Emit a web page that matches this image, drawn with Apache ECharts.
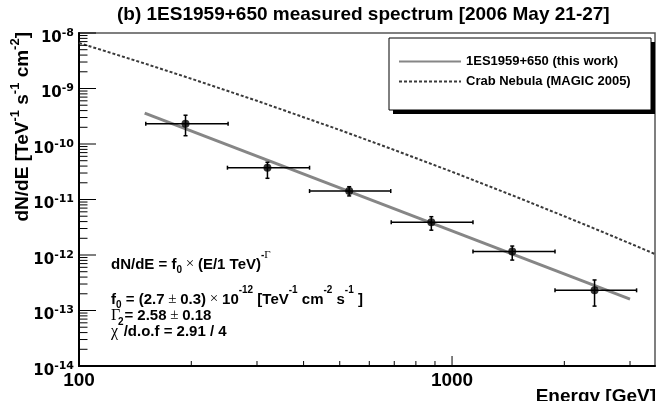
<!DOCTYPE html>
<html>
<head>
<meta charset="utf-8">
<script src="https://cdn.jsdelivr.net/npm/echarts@6/dist/echarts.min.js"></script>
<style>
html, body { margin: 0; padding: 0; background: #fff; }
#chart { width: 658px; height: 401px; }
</style>
</head>
<body>
<div id="chart"></div>
<script>
// measured points
var energy = [193, 320, 530, 880, 1450, 2410];
var flux = [2.32e-10, 3.74e-11, 1.42e-11, 3.88e-12, 1.16e-12, 2.31e-13];
var eLow = [151, 250, 415, 687, 1138, 1888];
var eHigh = [251, 415, 685, 1138, 1888, 3124];
var fLow = [1.41e-10, 2.41e-11, 1.16e-11, 2.8e-12, 8.1e-13, 1.2e-13];
var fHigh = [3.3e-10, 4.68e-11, 1.7e-11, 4.9e-12, 1.45e-12, 3.55e-13];

// fitted power law (end points)
var fitE = [150, 3000];
var fitF = [3.6e-10, 1.6e-13];

// Crab reference curve
var crabE = [100, 150, 200, 300, 500, 700, 1000, 1500, 2000, 2500, 3000, 3500];
var crabF = [6.62e-9, 2.82e-9, 1.50e-9, 6.0e-10, 1.79e-10, 7.81e-11, 3.16e-11, 1.088e-11, 4.99e-12, 2.70e-12, 1.615e-12, 1.041e-12];

// axis ticks
var xMajor = [100, 1000];
var xMinor = [200, 300, 400, 500, 600, 700, 800, 900, 2000, 3000];
var yDecades = [-14, -13, -12, -11, -10, -9, -8];
var mantissas = [2, 3, 4, 5, 6, 7, 8, 9];

var X_MIN = 100, X_MAX = 3500, Y_MIN = 1e-14, Y_MAX = 1e-8;
var FONT = 'Liberation Sans, Arial, Helvetica, sans-serif';
var WIDE = 'DejaVu Sans, sans-serif';
var SERIF = 'Liberation Serif, DejaVu Serif, serif';

var yMajor = yDecades.map(function(k) { return Math.pow(10, k); });
var yMinor = [];
for (var i = 0; i < yDecades.length - 1; i++) {
	for (var j = 0; j < mantissas.length; j++) {
		yMinor.push(mantissas[j] * Math.pow(10, yDecades[i]));
	}
}

var tickData = [];
xMajor.forEach(function(v) { tickData.push([v, Y_MIN, 0, 10]); });
xMinor.forEach(function(v) { tickData.push([v, Y_MIN, 0, 5]); });
yMajor.forEach(function(v) { tickData.push([X_MIN, v, 1, 17]); });
yMinor.forEach(function(v) { tickData.push([X_MIN, v, 1, 8.5]); });

var pointData = energy.map(function(e, i) {
	return [e, flux[i], eLow[i], eHigh[i], fLow[i], fHigh[i]];
});

function isPow10(v) {
	var l = Math.log10(v);
	return Math.abs(l - Math.round(l)) < 1e-6;
}

// rich text styles for the formula block (line box 22px, sup raised, sub lowered)
var LH = 22;
var richFormula = {
	n: { fontSize: 15, fontWeight: 'bold', fontFamily: FONT, fill: '#000', lineHeight: LH, verticalAlign: 'middle' },
	m: { fontSize: 15, fontFamily: SERIF, fill: '#000', lineHeight: LH, verticalAlign: 'middle' },
	g: { fontSize: 16, fontFamily: SERIF, fill: '#000', lineHeight: LH, verticalAlign: 'middle' },
	s: { fontSize: 10, fontWeight: 'bold', fontFamily: FONT, fill: '#000', height: 4, lineHeight: 4, verticalAlign: 'top' },
	sg: { fontSize: 11, fontFamily: SERIF, fill: '#000', height: 4, lineHeight: 4, verticalAlign: 'top' },
	d: { fontSize: 10, fontWeight: 'bold', fontFamily: FONT, fill: '#000', height: 11, lineHeight: 11, verticalAlign: 'bottom' }
};

var lineStyleBar = { stroke: '#000', lineWidth: 1.5 };

var chart = echarts.init(document.getElementById('chart'));
chart.setOption({
	animation: false,
	backgroundColor: '#fff',
	title: {
		text: '(b) 1ES1959+650 measured spectrum [2006 May 21-27]',
		left: 117,
		top: 5,
		padding: 0,
		textStyle: { fontSize: 19, fontWeight: 'bold', color: '#000', fontFamily: FONT }
	},
	legend: {
		data: ['1ES1959+650 (this work)', 'Crab Nebula (MAGIC 2005)'],
		orient: 'vertical',
		left: 398,
		top: 55,
		padding: 0,
		itemWidth: 62,
		itemHeight: 14,
		itemGap: 7,
		selectedMode: false,
		itemStyle: { opacity: 0 },
		textStyle: { fontSize: 13, fontWeight: 'bold', color: '#000', fontFamily: FONT }
	},
	grid: {
		left: 79, top: 33, right: 2, bottom: 35,
		show: true, borderColor: '#555', borderWidth: 1.5, backgroundColor: 'transparent'
	},
	xAxis: {
		type: 'log',
		logBase: 10,
		min: X_MIN,
		max: X_MAX,
		axisLine: { lineStyle: { color: '#000', width: 2 } },
		axisTick: { show: false },
		splitLine: { show: false },
		axisLabel: {
			margin: 5,
			color: '#000',
			fontSize: 19,
			fontWeight: 'bold',
			fontFamily: FONT,
			formatter: function(v) { return isPow10(v) ? String(Math.round(v)) : ''; }
		}
	},
	yAxis: {
		type: 'log',
		logBase: 10,
		min: Y_MIN,
		max: Y_MAX,
		axisLine: { lineStyle: { color: '#000', width: 2 } },
		axisTick: { show: false },
		splitLine: { show: false },
		axisLabel: {
			margin: 5,
			color: '#000',
			formatter: function(v) {
				return '{b|10}{s|-' + Math.abs(Math.round(Math.log10(v))) + '}';
			},
			rich: {
				b: { fontSize: 15, fontWeight: 'bold', fontFamily: WIDE, color: '#000', height: 10, lineHeight: 20, verticalAlign: 'bottom' },
				s: { fontSize: 11, fontWeight: 'bold', fontFamily: WIDE, color: '#000', lineHeight: 20, verticalAlign: 'middle' }
			}
		}
	},
	graphic: [
		// legend frame with hard shadow
		{ type: 'rect', shape: { x: 393, y: 42, width: 262, height: 72 }, style: { fill: '#000' }, z: 1 },
		{ type: 'rect', shape: { x: 389, y: 38, width: 262, height: 72 }, style: { fill: '#fff', stroke: '#000', lineWidth: 1 }, z: 2 },
		{
			type: 'text',
			x: 23,
			y: 32,
			rotation: Math.PI / 2,
			style: {
				text: '{n|dN/dE [TeV}{s|-1}{n| s}{s|-1}{n| cm}{s|-2}{n|]}',
				align: 'right',
				verticalAlign: 'middle',
				rich: {
					n: { fontSize: 19, fontWeight: 'bold', fontFamily: FONT, fill: '#000', lineHeight: 28, verticalAlign: 'middle' },
					s: { fontSize: 13, fontWeight: 'bold', fontFamily: FONT, fill: '#000', lineHeight: 14, verticalAlign: 'top' }
				}
			}
		},
		{
			type: 'text',
			x: 656,
			y: 397,
			style: {
				text: 'Energy [GeV]',
				align: 'right',
				verticalAlign: 'middle',
				font: 'bold 19px ' + FONT,
				fill: '#000'
			}
		},
		{
			type: 'group',
			left: 111,
			top: 250,
			children: [
				{
					type: 'text', x: 0, y: 0,
					style: { text: '{n|dN/dE = f}{d|0}{m| × }{n|(E/1 TeV)}{s|-}{sg|Γ}', rich: richFormula }
				},
				{
					type: 'text', x: 0, y: 35,
					style: {
						text: '{n|f}{d|0}{n| = (2.7}{m| ± }{n|0.3)}{m| × }{n|10}{s|-12}{n| [TeV}{s|-1}{n| cm}{s|-2}{n| s}{s|-1}{n| ]}',
						rich: richFormula
					}
				},
				{
					type: 'text', x: 0, y: 51,
					style: { text: '{g|Γ}{n| = 2.58}{m| ± }{n|0.18}', rich: richFormula }
				},
				{
					type: 'text', x: 0, y: 67,
					style: { text: '{g|χ}{s|2}{n|/d.o.f = 2.91 / 4}', rich: richFormula }
				}
			]
		}
	],
	series: [
		{
			name: 'Crab Nebula (MAGIC 2005)',
			type: 'line',
			symbol: 'none',
			data: crabE.map(function(e, i) { return [e, crabF[i]]; }),
			lineStyle: { color: '#3a3a3a', width: 2, type: [3, 2] },
			itemStyle: { color: '#3a3a3a' },
			z: 3
		},
		{
			name: '1ES1959+650 (this work)',
			type: 'line',
			symbol: 'none',
			data: fitE.map(function(e, i) { return [e, fitF[i]]; }),
			lineStyle: { color: '#868686', width: 3 },
			itemStyle: { color: '#868686' },
			z: 4
		},
		{
			name: 'errors',
			type: 'custom',
			data: pointData,
			encode: { x: [0, 2, 3], y: [1, 4, 5] },
			z: 5,
			renderItem: function(params, api) {
				var e = api.value(0), f = api.value(1);
				var l = api.coord([api.value(2), f]);
				var r = api.coord([api.value(3), f]);
				var b = api.coord([e, api.value(4)]);
				var t = api.coord([e, api.value(5)]);
				var cap = 2;
				return {
					type: 'group',
					children: [
						{ type: 'line', shape: { x1: l[0], y1: l[1], x2: r[0], y2: r[1] }, style: lineStyleBar },
						{ type: 'line', shape: { x1: t[0], y1: t[1], x2: b[0], y2: b[1] }, style: lineStyleBar },
						{ type: 'line', shape: { x1: l[0], y1: l[1] - cap, x2: l[0], y2: l[1] + cap }, style: lineStyleBar },
						{ type: 'line', shape: { x1: r[0], y1: r[1] - cap, x2: r[0], y2: r[1] + cap }, style: lineStyleBar },
						{ type: 'line', shape: { x1: t[0] - cap, y1: t[1], x2: t[0] + cap, y2: t[1] }, style: lineStyleBar },
						{ type: 'line', shape: { x1: b[0] - cap, y1: b[1], x2: b[0] + cap, y2: b[1] }, style: lineStyleBar }
					]
				};
			}
		},
		{
			name: 'points',
			type: 'scatter',
			data: energy.map(function(e, i) { return [e, flux[i]]; }),
			symbol: 'circle',
			symbolSize: 8,
			itemStyle: { color: '#000' },
			z: 6
		},
		{
			name: 'ticks',
			type: 'custom',
			data: tickData,
			silent: true,
			z: 7,
			renderItem: function(params, api) {
				var p = api.coord([api.value(0), api.value(1)]);
				var len = api.value(3);
				var shape = api.value(2) === 0
					? { x1: p[0], y1: p[1], x2: p[0], y2: p[1] - len }
					: { x1: p[0], y1: p[1], x2: p[0] + len, y2: p[1] };
				return { type: 'line', shape: shape, style: { stroke: '#000', lineWidth: 1 } };
			}
		}
	]
});
</script>
</body>
</html>
